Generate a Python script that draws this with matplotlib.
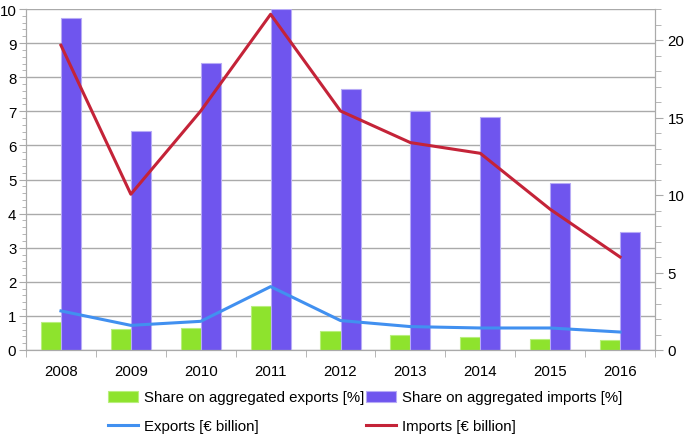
import numpy as np
import matplotlib.pyplot as plt
from matplotlib.ticker import MultipleLocator, FixedLocator, NullFormatter

plt.rcParams['font.family'] = ['Liberation Sans', 'DejaVu Sans']
plt.rcParams['font.size'] = 10.8

# Данные
years = ['2008', '2009', '2010', '2011', '2012', '2013', '2014', '2015', '2016']
share_exports = [0.82, 0.61, 0.65, 1.28, 0.56, 0.43, 0.37, 0.33, 0.28]
share_imports = [9.74, 6.41, 8.43, 9.99, 7.66, 7.0, 6.82, 4.89, 3.46]
exports_bn = [2.52, 1.59, 1.85, 4.09, 1.9, 1.51, 1.42, 1.42, 1.16]
imports_bn = [19.66, 10.05, 15.42, 21.66, 15.42, 13.38, 12.69, 9.08, 6.0]

green = '#8ee32d'
purple = '#6f55ee'
blue = '#4190f0'
red = '#c42338'
grid_c = '#aaaaaa'

fig = plt.figure(figsize=(6.85, 4.35), dpi=100)
ax = fig.add_axes([26 / 685, 1 - 351 / 435, (655 - 26) / 685, 341 / 435])
ax2 = ax.twinx()

x = np.arange(len(years))
w = 0.287
ax.bar(x - w / 2, share_exports, w, color=green, edgecolor='#b9ef7e', linewidth=0.8,
       label='Share on aggregated exports [%]')
ax.bar(x + w / 2, share_imports, w, color=purple, edgecolor='#b7abf6', linewidth=0.8,
       label='Share on aggregated imports [%]')

ax2.plot(x, exports_bn, color=blue, lw=2.2, label='Exports [€ billion]')
ax2.plot(x, imports_bn, color=red, lw=2.2, label='Imports [€ billion]')

# Оси
ax.set_xlim(-0.5, len(years) - 0.5)
ax.set_ylim(0, 10)
ax2.set_ylim(0, 22)
ax.yaxis.set_major_locator(MultipleLocator(1))
ax.yaxis.set_minor_locator(MultipleLocator(0.2))
ax2.yaxis.set_major_locator(MultipleLocator(5))
ax2.yaxis.set_minor_locator(MultipleLocator(1))
ax.set_xticks(x)
ax.set_xticklabels(years)
ax.xaxis.set_minor_locator(FixedLocator(np.arange(-0.5, len(years), 1)))
ax.xaxis.set_minor_formatter(NullFormatter())
ax.tick_params(axis='x', which='major', length=0, pad=10)
ax.tick_params(axis='x', which='minor', length=5, color=grid_c)
ax.tick_params(axis='y', which='major', length=5, color=grid_c, pad=2)
ax.tick_params(axis='y', which='minor', length=3, color=grid_c)
ax2.tick_params(axis='y', which='major', length=6, color=grid_c, pad=3)
ax2.tick_params(axis='y', which='minor', length=4, color=grid_c)

ax.grid(axis='y', color=grid_c, lw=1)
ax.set_axisbelow(True)
for a in (ax, ax2):
    for s in a.spines.values():
        s.set_color(grid_c)
    a.spines['top'].set_visible(False)

# Легенда
h1, l1 = ax.get_legend_handles_labels()
h2, l2 = ax2.get_legend_handles_labels()
handles = [h1[0], h2[0], h1[1], h2[1]]
labels = [l1[0], l2[0], l1[1], l2[1]]
fig.legend(handles, labels, ncol=2, frameon=False, loc='upper left',
           bbox_to_anchor=(108 / 685, 1 - 391.5 / 435), borderpad=0, borderaxespad=0,
           handlelength=2.0, handleheight=0.8, handletextpad=0.4, columnspacing=0.12,
           labelspacing=1.0)

fig.savefig('out.png', dpi=100)
